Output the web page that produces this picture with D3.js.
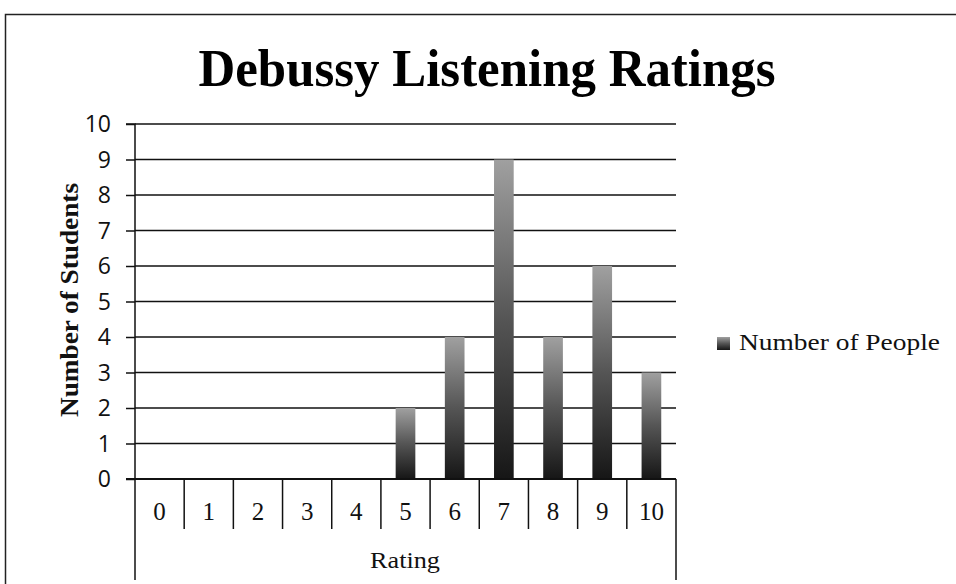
<!DOCTYPE html>
<html><head><meta charset="utf-8">
<script src="https://cdn.jsdelivr.net/npm/d3@7"></script>
<style>body{margin:0;background:#fff}svg{display:block}</style>
</head><body>
<script>
const ratings = ["0","1","2","3","4","5","6","7","8","9","10"];
const counts = [0,0,0,0,0,2,4,9,4,6,3];
const yTicks = [0,1,2,3,4,5,6,7,8,9,10];
const titleText = "Debussy Listening Ratings";
const yTitle = "Number of Students";
const xTitle = "Rating";
const seriesName = "Number of People";

(function(){
const W = 956, H = 584;
const svg = d3.select("body").append("svg").attr("width", W).attr("height", H);
const defs = svg.append("defs");
const grad = defs.append("linearGradient").attr("id","barg").attr("x1",0).attr("y1",0).attr("x2",0).attr("y2",1);
grad.append("stop").attr("offset","0%").attr("stop-color","#a0a0a0");
grad.append("stop").attr("offset","50%").attr("stop-color","#555");
grad.append("stop").attr("offset","100%").attr("stop-color","#161616");

const serif = "'Liberation Serif', serif";

// outer border
svg.append("path").attr("d","M5.5,584 L5.5,14.5 L956,14.5").attr("fill","none").attr("stroke","#222").attr("stroke-width",1.5);

const pLeft = 135, pRight = 676, pTop = 124, pBottom = 479;
const x = d3.scaleBand().domain(ratings).range([pLeft, pRight]).paddingInner(0.6).paddingOuter(0.3);
const xc = d3.scaleBand().domain(ratings).range([pLeft, pRight]);
const y = d3.scaleLinear().domain([0,10]).range([pBottom, pTop]);

// title
svg.append("text").attr("x", 487).attr("y", 86).attr("text-anchor","middle")
  .attr("font-family",serif).attr("font-weight","bold").attr("font-size",52)
  .attr("textLength",577).attr("lengthAdjust","spacingAndGlyphs").attr("fill","#000").text(titleText);

// gridlines
svg.append("g").selectAll("line").data(yTicks.filter(d=>d>0)).join("line")
  .attr("x1", pLeft).attr("x2", pRight).attr("y1", d=>y(d)).attr("y2", d=>y(d))
  .attr("stroke","#111").attr("stroke-width",1.5);

// bars
svg.append("g").selectAll("rect").data(ratings.map((r,i)=>({r, v:counts[i]})).filter(d=>d.v>0)).join("rect")
  .attr("x", d=>x(d.r)).attr("width", x.bandwidth())
  .attr("y", d=>y(d.v)).attr("height", d=>y(0)-y(d.v))
  .attr("fill","url(#barg)");

// y axis
const yAxis = d3.axisLeft(y).tickValues(yTicks).tickSize(9).tickPadding(15).tickFormat(d3.format("d"));
const ga = svg.append("g").attr("transform",`translate(${pLeft},0)`).call(yAxis);
ga.select(".domain").attr("stroke","#111").attr("stroke-width",1.5).attr("d",`M-9,${pTop}H0V${pBottom}`);
ga.selectAll(".tick line").attr("stroke","#111").attr("stroke-width",1.5);
ga.selectAll(".tick text").attr("font-family","'Open Sans', sans-serif").attr("font-size",23).attr("fill","#111").attr("dy","0.34em");

// x axis baseline
svg.append("line").attr("x1", pLeft-9).attr("x2", pRight).attr("y1", pBottom).attr("y2", pBottom).attr("stroke","#111").attr("stroke-width",2);

// category table
const bounds = ratings.map(r=>xc(r)).concat([pRight]);
svg.append("g").selectAll("line").data(bounds).join("line")
  .attr("x1", d=>d).attr("x2", d=>d).attr("y1", pBottom)
  .attr("y2", (d,i)=> (i===0 || i===bounds.length-1) ? 580 : 529)
  .attr("stroke","#111").attr("stroke-width",1.5);
svg.append("g").selectAll("text").data(ratings).join("text")
  .attr("x", d=>xc(d)+xc.bandwidth()/2).attr("y", 520).attr("text-anchor","middle")
  .attr("font-family",serif).attr("font-size",25).attr("fill","#111").text(d=>d);
svg.append("text").attr("x",405).attr("y",568).attr("text-anchor","middle")
  .attr("font-family",serif).attr("font-size",23).attr("textLength",70).attr("lengthAdjust","spacingAndGlyphs")
  .attr("fill","#111").text(xTitle);

// y title
svg.append("text").attr("transform",`translate(78,300) rotate(-90)`).attr("text-anchor","middle")
  .attr("font-family",serif).attr("font-weight","bold").attr("font-size",25)
  .attr("textLength",234).attr("lengthAdjust","spacingAndGlyphs").attr("fill","#111").text(yTitle);

// legend
svg.append("rect").attr("x",717).attr("y",337).attr("width",13).attr("height",13).attr("fill","url(#barg)");
svg.append("text").attr("x",739).attr("y",350).attr("font-family",serif).attr("font-size",23)
  .attr("textLength",201).attr("lengthAdjust","spacingAndGlyphs").attr("fill","#111").text(seriesName);
})();
</script>
</body></html>
